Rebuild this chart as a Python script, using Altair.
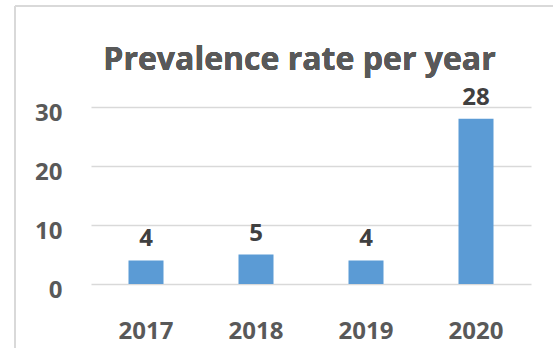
import altair as alt
import pandas as pd

# Prevalence rate per year
years = ["2017", "2018", "2019", "2020"]
rates = [4, 5, 4, 28]
y_ticks = [0, 10, 20, 30]

df = pd.DataFrame({"year": years, "rate": rates})

FONT = "Open Sans"
BAR = "#5b9bd5"
GRID = "#d9d9d9"
AXIS_TXT = "#595959"
LABEL_TXT = "#404040"

x_enc = alt.X(
    "year:N",
    sort=years,
    scale=alt.Scale(paddingInner=0, paddingOuter=0),
    axis=alt.Axis(
        title=None, domain=False, ticks=False, grid=False, labelAngle=0,
        labelFont=FONT, labelFontSize=24, labelFontWeight="bold",
        labelColor=AXIS_TXT, labelBaseline="alphabetic", labelPadding=54,
    ),
)
y_enc = alt.Y(
    "rate:Q",
    scale=alt.Scale(domain=[0, 30], nice=False),
    axis=alt.Axis(
        title=None, values=y_ticks, domain=False, ticks=False,
        grid=True, gridColor=GRID, gridWidth=1.5,
        labelFont=FONT, labelFontSize=24, labelFontWeight="bold",
        labelColor=AXIS_TXT, labelPadding=29, labelOffset=6,
    ),
)

bars = alt.Chart(df).mark_bar(size=35, color=BAR).encode(x=x_enc, y=y_enc)

values = alt.Chart(df).mark_text(
    font=FONT, fontSize=24, fontWeight="bold", color=LABEL_TXT,
    baseline="alphabetic", dy=-14,
).encode(x=alt.X("year:N", sort=years), y="rate:Q", text="rate:Q")

title = alt.Chart(df).mark_text(
    text="Prevalence rate per year", font=FONT, fontSize=32,
    fontWeight="bold", color=AXIS_TXT, baseline="alphabetic", align="center",
).encode(x=alt.value(208.5), y=alt.value(-37))

# light frame around the chart box (runs off the right and bottom edges)
frame_left = alt.Chart(df).mark_rule(color=GRID, strokeWidth=1.5).encode(
    x=alt.value(-76), y=alt.value(-101), y2=alt.value(243)
)
frame_top = alt.Chart(df).mark_rule(color=GRID, strokeWidth=1.5).encode(
    x=alt.value(-76), x2=alt.value(462), y=alt.value(-101)
)

chart = (
    alt.layer(frame_left, frame_top, bars, values, title)
    .properties(
        width=440, height=177,
        autosize=alt.AutoSizeParams(type="none"),
        padding={"left": 91, "top": 107, "right": 22, "bottom": 64},
        view=alt.ViewBackground(strokeWidth=0),
    )
    .configure_view(strokeWidth=0)
    .configure(background="white")
)

chart.save("out.html", embed_options={"renderer": "svg", "actions": False})
